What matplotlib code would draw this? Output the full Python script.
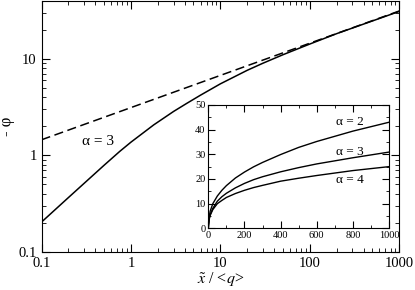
import matplotlib
matplotlib.use('Agg')
import matplotlib.pyplot as plt
from matplotlib import ticker

plt.rcParams['font.family'] = ['Liberation Serif', 'DejaVu Serif']
plt.rcParams['mathtext.fontset'] = 'stix'

# main panel, alpha = 3
x_main = [0.1, 0.2, 0.5, 0.75, 1, 1.8, 3, 4.2, 6, 10, 20, 30, 50, 100, 200, 500, 1000]
phi_a3 = [0.204, 0.366, 0.789, 1.10, 1.37, 2.07, 2.85, 3.45, 4.2, 5.5, 7.6, 9.0,
          11.0, 14.2, 18.2, 24.6, 30.9]
# dashed asymptote
x_dash = [0.1, 1000]
phi_dash = [1.45, 31.2]

# inset, linear axes
x_in = [0, 0.1, 1, 5, 10, 25, 50, 75, 100, 150, 200, 250, 300, 400, 500, 600, 800, 1000]
phi_in_a2 = [0, 0.2, 1.5, 4.6, 6.9, 10.0, 13.1, 15.4, 17.3, 20.4, 22.8, 24.9, 26.7, 29.9,
             32.8, 35.2, 39.4, 43.0]
phi_in_a3 = [0, 0.2, 1.37, 4.0, 5.5, 8.1, 11.0, 12.8, 14.2, 16.4, 18.2, 19.7, 20.9, 22.9,
             24.6, 26.1, 28.6, 30.9]
phi_in_a4 = [0, 0.2, 1.3, 3.7, 5.2, 7.6, 10.0, 11.3, 12.5, 14.1, 15.4, 16.5, 17.4, 19.1,
             20.3, 21.4, 23.4, 25.0]

fig = plt.figure(figsize=(4.15, 2.9), dpi=100)
ax = fig.add_axes([0.1, 0.131, 0.862, 0.867])

ax.plot(x_main, phi_a3, color='black', lw=1.1)
ax.plot(x_dash, phi_dash, color='black', lw=1.1, dashes=(6, 3))
ax.set_xscale('log')
ax.set_yscale('log')
ax.set_xlim(0.1, 1000)
ax.set_ylim(0.1, 40)
fmt = ticker.FuncFormatter(lambda v, p: '%g' % v)
ax.xaxis.set_major_formatter(fmt)
ax.yaxis.set_major_formatter(fmt)
ax.yaxis.set_major_locator(ticker.FixedLocator([0.1, 1, 10]))
ax.tick_params(which='both', direction='in', top=True, right=True, labelsize=10.5)
ax.tick_params(which='major', length=6)
ax.tick_params(which='minor', length=3)
ax.set_xlabel(r'$\tilde{x}$ / <$q$>', fontsize=11.5, labelpad=0)
ax.set_ylabel('- \u03c6', fontsize=12, labelpad=2)
ax.text(0.43, 1.38, '\u03b1 = 3', fontsize=11, ha='center', va='center')

ins = fig.add_axes([0.502, 0.2128, 0.4354, 0.4252])
ins.plot(x_in, phi_in_a2, color='black', lw=1.0)
ins.plot(x_in, phi_in_a3, color='black', lw=1.0)
ins.plot(x_in, phi_in_a4, color='black', lw=1.0)
ins.set_xlim(0, 1000)
ins.set_ylim(0, 50)
ins.xaxis.set_major_locator(ticker.MultipleLocator(200))
ins.xaxis.set_minor_locator(ticker.MultipleLocator(100))
ins.yaxis.set_major_locator(ticker.MultipleLocator(10))
ins.yaxis.set_minor_locator(ticker.MultipleLocator(5))
ins.tick_params(which='both', direction='in', top=True, right=True, labelsize=7.5, pad=2)
ins.tick_params(which='major', length=5)
ins.tick_params(which='minor', length=2.5)
ins.text(784, 43.1, '\u03b1 = 2', fontsize=9.5, ha='center', va='center')
ins.text(784, 31.1, '\u03b1 = 3', fontsize=9.5, ha='center', va='center')
ins.text(784, 19.6, '\u03b1 = 4', fontsize=9.5, ha='center', va='center')

fig.savefig('out.png', dpi=100)
